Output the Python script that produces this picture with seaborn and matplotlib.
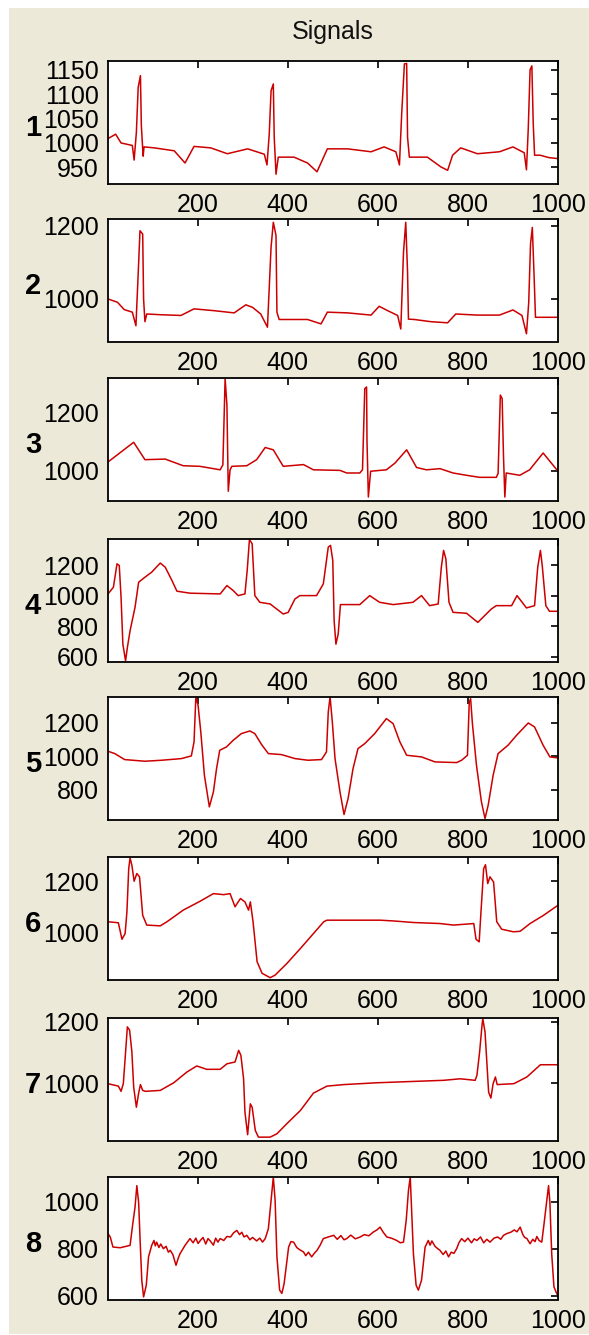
import matplotlib
matplotlib.use("Agg")
import matplotlib.pyplot as plt
import seaborn as sns
import pandas as pd
from matplotlib.patches import Rectangle

# sample index / amplitude breakpoints
sig1_x = [1, 18, 30, 55, 59, 64, 68, 73, 75, 79, 81, 104, 148, 172, 192, 229, 266, 311, 348, 354,
          359, 363, 368, 370, 374, 379, 414, 444, 465, 488, 533, 585, 614, 640, 648, 653, 659, 664, 666, 670,
          710, 740, 755, 766, 784, 821, 870, 900, 925, 930, 934, 938, 942, 945, 948, 960, 980, 1000]
sig1_y = [1009, 1018, 1000, 995, 965, 1022, 1114, 1138, 1036, 973, 992, 990, 984, 959, 993, 990, 978, 988, 977, 955,
          1019, 1107, 1121, 1012, 936, 971, 971, 959, 941, 988, 988, 982, 992, 982, 955, 1060, 1162, 1163, 1012, 971,
          971, 951, 944, 975, 990, 978, 982, 992, 980, 945, 1030, 1150, 1158, 1040, 975, 975, 970, 968]

sig2_x = [1, 22, 37, 55, 63, 68, 72, 78, 80, 83, 87, 118, 163, 192, 237, 281, 307, 322, 340, 355,
          363, 368, 374, 376, 381, 400, 444, 474, 488, 533, 585, 603, 622, 644, 651, 657, 662, 666, 668, 681,
          718, 755, 773, 821, 870, 900, 920, 930, 935, 939, 943, 947, 950, 1000]
sig2_y = [1000, 991, 971, 964, 927, 1068, 1186, 1177, 1000, 938, 959, 957, 955, 973, 968, 962, 984, 977, 959, 923,
          1141, 1209, 1173, 964, 944, 944, 944, 932, 964, 962, 956, 980, 968, 955, 918, 1127, 1209, 1073, 945, 944,
          938, 935, 959, 956, 956, 970, 955, 905, 990, 1150, 1195, 1060, 950, 950]

sig3_x = [1, 58, 83, 128, 168, 205, 250, 256, 261, 265, 268, 272, 276, 309, 331, 350, 368, 390, 435, 457,
          516, 531, 560, 566, 571, 575, 576, 579, 584, 619, 638, 664, 686, 708, 738, 767, 797, 826, 863, 867,
          872, 876, 879, 882, 885, 915, 937, 967, 1000]
sig3_y = [1030, 1098, 1038, 1040, 1017, 1015, 1003, 1020, 1318, 1226, 929, 1003, 1015, 1017, 1038, 1080, 1072, 1015, 1021, 1003,
          1001, 992, 992, 1003, 1283, 1289, 1100, 909, 998, 1003, 1026, 1072, 1011, 1003, 1007, 992, 984, 977, 977, 990,
          1261, 1249, 1050, 909, 992, 984, 1003, 1061, 998]

sig4_x = [1, 13, 21, 26, 30, 34, 40, 44, 50, 61, 69, 83, 98, 117, 128, 143, 154, 183, 250, 265,
          279, 290, 305, 310, 315, 321, 327, 338, 361, 390, 401, 416, 427, 464, 479, 490, 495, 500, 503, 507,
          512, 517, 560, 582, 604, 634, 678, 697, 715, 734, 741, 746, 751, 758, 767, 797, 822, 852, 863, 897,
          909, 930, 948, 955, 961, 965, 973, 981, 1000]
sig4_y = [1013, 1057, 1211, 1200, 991, 683, 573, 661, 771, 925, 1090, 1123, 1156, 1216, 1189, 1101, 1031, 1018, 1013, 1068,
          1035, 1002, 1013, 1167, 1370, 1343, 1002, 958, 947, 881, 892, 980, 1002, 1002, 1079, 1321, 1332, 1233, 837, 683,
          749, 943, 943, 1002, 958, 943, 958, 1002, 936, 947, 1189, 1299, 1244, 958, 892, 886, 826, 914, 936, 936,
          1002, 921, 936, 1189, 1299, 1200, 936, 899, 899]

sig5_x = [1, 16, 38, 83, 120, 164, 186, 192, 196, 201, 207, 215, 226, 235, 242, 249, 264, 279, 297, 316,
          327, 342, 357, 386, 416, 445, 475, 486, 490, 494, 499, 505, 516, 525, 534, 545, 556, 571, 593, 619,
          634, 649, 664, 697, 727, 775, 786, 799, 803, 806, 810, 819, 830, 838, 845, 856, 867, 889, 908, 934,
          948, 967, 982, 1000]
sig5_y = [1030, 1016, 980, 970, 976, 986, 1002, 1086, 1356, 1306, 1146, 886, 696, 786, 926, 1036, 1056, 1096, 1136, 1152,
          1136, 1070, 1016, 1010, 986, 976, 980, 1026, 1266, 1356, 1206, 986, 786, 650, 746, 926, 1046, 1076, 1136, 1226,
          1196, 1086, 1006, 996, 966, 962, 976, 1006, 1326, 1346, 1196, 946, 726, 626, 706, 886, 1016, 1066, 1126, 1200,
          1176, 1066, 996, 990]

sig6_x = [1, 24, 32, 39, 43, 47, 50, 54, 59, 65, 71, 78, 87, 117, 132, 168, 206, 235, 258, 272,
          283, 295, 305, 313, 317, 323, 332, 343, 361, 372, 398, 428, 457, 480, 487, 605, 635, 679, 738, 768,
          813, 818, 825, 829, 835, 839, 844, 849, 857, 864, 875, 901, 916, 938, 968, 1000]
sig6_y = [1043, 1039, 975, 997, 1081, 1249, 1290, 1262, 1200, 1230, 1217, 1068, 1030, 1027, 1043, 1088, 1123, 1152, 1148, 1152,
          1101, 1133, 1120, 1088, 1120, 1043, 888, 843, 826, 836, 881, 939, 997, 1043, 1049, 1049, 1046, 1040, 1036, 1030,
          1036, 975, 965, 1081, 1249, 1264, 1191, 1217, 1197, 1043, 1014, 1004, 1006, 1036, 1068, 1107]

sig7_x = [1, 24, 30, 35, 39, 44, 49, 54, 58, 64, 69, 73, 78, 84, 117, 147, 176, 198, 220, 250,
          265, 283, 291, 296, 302, 305, 311, 317, 321, 328, 335, 361, 376, 398, 428, 457, 487, 524, 561, 598,
          672, 746, 783, 816, 820, 826, 831, 833, 838, 842, 846, 851, 856, 861, 865, 902, 931, 961, 1000]
sig7_y = [998, 990, 973, 998, 1080, 1184, 1173, 1102, 987, 921, 967, 995, 976, 973, 976, 1001, 1036, 1056, 1045, 1045,
          1063, 1069, 1107, 1091, 1014, 905, 831, 932, 921, 845, 823, 823, 834, 867, 910, 967, 990, 995, 998, 1001,
          1005, 1009, 1014, 1009, 1025, 1102, 1184, 1211, 1167, 1069, 970, 951, 998, 1020, 995, 998, 1020, 1060, 1060]

sig8_x = [1, 6, 12, 28, 50, 56, 61, 65, 69, 72, 76, 80, 86, 91, 98, 103, 106, 109, 114, 118,
          124, 130, 135, 139, 145, 152, 157, 161, 166, 172, 178, 183, 190, 196, 201, 206, 212, 218, 223, 228,
          235, 240, 245, 250, 258, 265, 273, 280, 287, 293, 298, 303, 309, 316, 322, 331, 338, 344, 350, 357,
          365, 368, 372, 376, 382, 387, 392, 402, 407, 413, 420, 427, 435, 440, 446, 453, 459, 465, 472, 479,
          490, 502, 510, 518, 525, 531, 540, 550, 561, 570, 580, 590, 598, 605, 612, 620, 630, 642, 650, 657,
          663, 668, 672, 675, 679, 685, 690, 697, 705, 712, 716, 720, 727, 733, 738, 745, 751, 757, 763, 769,
          775, 780, 786, 793, 800, 808, 814, 820, 828, 835, 842, 849, 858, 866, 873, 879, 887, 895, 903, 909,
          916, 922, 926, 931, 938, 944, 949, 953, 958, 964, 969, 975, 979, 982, 986, 991, 997, 1000]
sig8_y = [864, 850, 807, 804, 814, 906, 977, 1069, 998, 850, 665, 594, 644, 765, 814, 835, 812, 828, 805, 820,
          800, 810, 785, 793, 775, 729, 760, 779, 795, 814, 830, 843, 825, 845, 822, 835, 848, 820, 843, 833,
          815, 845, 828, 843, 835, 852, 850, 868, 878, 860, 870, 850, 857, 838, 848, 833, 845, 828, 843, 885,
          1048, 1106, 1006, 765, 623, 609, 651, 807, 830, 828, 805, 795, 786, 770, 785, 765, 780, 793, 815, 843,
          850, 857, 840, 856, 838, 843, 858, 842, 850, 860, 855, 871, 880, 892, 870, 850, 845, 835, 825, 828,
          920, 1048, 1106, 963, 779, 644, 623, 665, 807, 835, 815, 833, 810, 800, 793, 775, 790, 765, 785, 780,
          800, 825, 843, 830, 845, 825, 842, 835, 850, 825, 840, 828, 845, 850, 840, 857, 865, 870, 880, 872,
          892, 860, 848, 843, 821, 840, 830, 852, 835, 828, 906, 1006, 1069, 998, 779, 637, 609, 600]

signals = [(sig1_x, sig1_y), (sig2_x, sig2_y), (sig3_x, sig3_y), (sig4_x, sig4_y),
           (sig5_x, sig5_y), (sig6_x, sig6_y), (sig7_x, sig7_y), (sig8_x, sig8_y)]
y_limits = [(917, 1168), (884, 1218), (897, 1320), (569, 1374),
            (620, 1356), (819, 1294), (812, 1213), (583, 1106)]
y_ticks = [[950, 1000, 1050, 1100, 1150], [1000, 1200], [1000, 1200], [600, 800, 1000, 1200],
           [800, 1000, 1200], [1000, 1200], [1000, 1200], [600, 800, 1000]]
x_ticks = [200, 400, 600, 800, 1000]
panel_names = ['1', '2', '3', '4', '5', '6', '7', '8']

sns.set_theme(style="white")
plt.rcParams['font.family'] = ['Liberation Sans', 'DejaVu Sans']

W, H = 589, 1335
fig = plt.figure(figsize=(W / 100, H / 100), dpi=100, facecolor='white')
fig.add_artist(Rectangle((9 / W, 1 / H), 1, (H - 9) / H, transform=fig.transFigure,
                         facecolor='#ece9d8', edgecolor='none', zorder=-5))

# panel tops in pixels
tops = [61, 219, 378, 539, 697, 857, 1018, 1177]
ph = 122.5
for i, (xs, ys) in enumerate(signals):
    top = tops[i]
    ax = fig.add_axes([108 / W, 1 - (top + ph) / H, 450 / W, ph / H])
    ax.set_facecolor('white')
    df = pd.DataFrame({'sample': xs, 'value': ys})
    sns.lineplot(data=df, x='sample', y='value', ax=ax, color='#cc0000',
                 linewidth=1.1, sort=False, estimator=None)
    ax.set_xlim(1, 1000)
    ax.set_ylim(*y_limits[i])
    ax.set_xticks(x_ticks)
    ax.set_yticks(y_ticks[i])
    ax.set_xlabel('')
    ax.set_ylabel('')
    ax.tick_params(direction='in', length=5, width=1.2, top=True, right=True,
                   labelsize=18, colors='black')
    ax.tick_params(axis='x', pad=7)
    ax.tick_params(axis='y', pad=6.5)
    for s in ax.spines.values():
        s.set_visible(True)
        s.set_color('black')
        s.set_linewidth(1.3)
    fig.text(33 / W, 1 - (top + ph / 2 + 6) / H, panel_names[i], fontsize=21,
             fontweight='bold', ha='center', va='center', color='black')

fig.text(333 / W, 1 - 39 / H, 'Signals', fontsize=18, ha='center', va='baseline', color='#111111')

fig.savefig('out.png', dpi=100, facecolor=fig.get_facecolor())
